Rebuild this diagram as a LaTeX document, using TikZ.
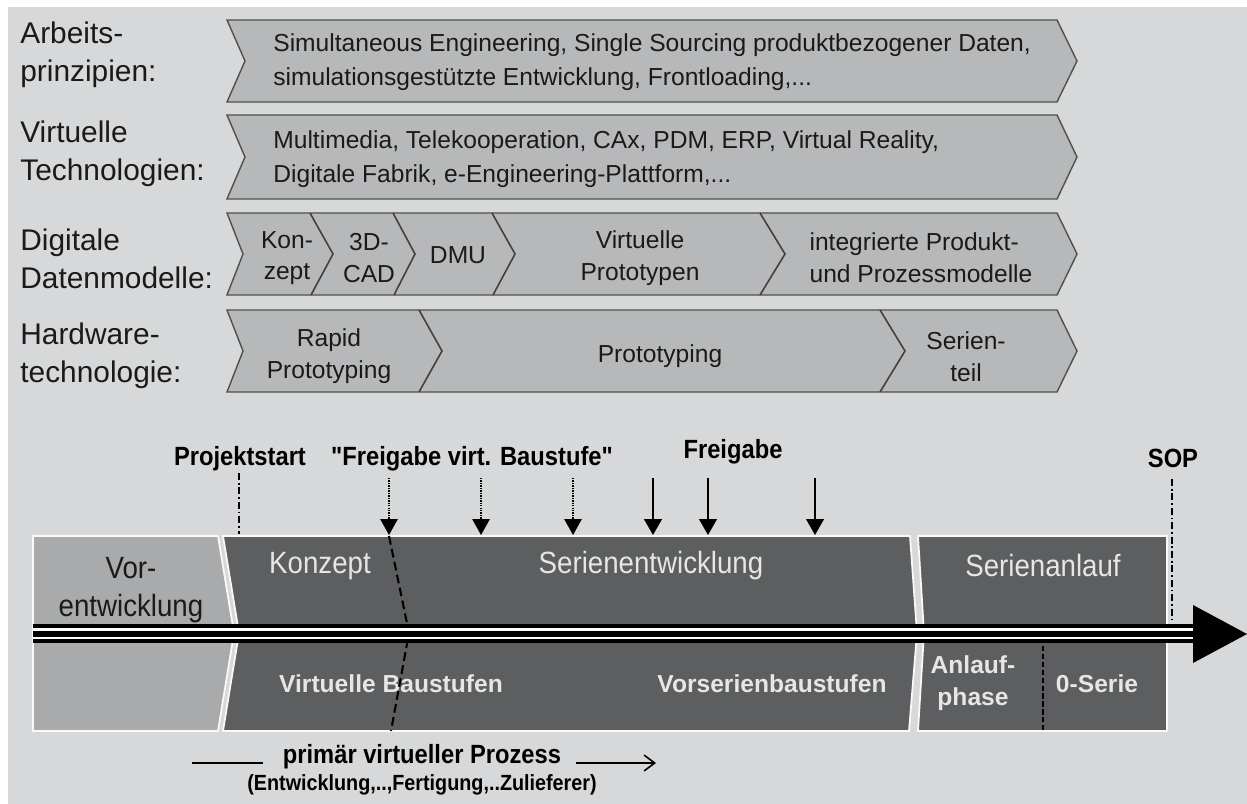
\documentclass[tikz,border=0pt]{standalone}
\usepackage{fontspec}
\setmainfont{Liberation Sans}
\newfontfamily\narrowsans[FakeStretch=0.9]{Liberation Sans}
\usetikzlibrary{arrows.meta}

\definecolor{bgc}{HTML}{D7D8D9}
\definecolor{chevfill}{HTML}{B7B8B9}
\definecolor{chevline}{HTML}{505050}
\definecolor{prefill}{HTML}{A9AAAB}
\definecolor{phasefill}{HTML}{5C5E5F}
\definecolor{phasetext}{HTML}{E6E6E6}
\definecolor{inktext}{HTML}{1A1A1A}

\tikzset{
  rowlabel/.style={anchor=west, align=left, inner sep=0pt, text=inktext,
    font=\fontsize{17}{21.5}\selectfont},
  rowtext/.style={align=left, inner sep=0pt, text=inktext,
    font=\fontsize{14}{19.5}\selectfont},
  segtext/.style={align=center, inner sep=0pt, text=inktext,
    font=\fontsize{14}{18}\selectfont},
  chev/.style={fill=chevfill, draw=chevline, line width=0.8pt, line join=miter},
  divider/.style={draw=chevline!80!black, line width=0.9pt},
  prephase/.style={fill=prefill, draw=white!85!bgc, line width=1pt},
  phase/.style={fill=phasefill, draw=white!85!bgc, line width=1pt},
  phasename/.style={inner sep=0pt, text=phasetext,
    font=\narrowsans\fontsize{17.5}{22}\selectfont},
  stagename/.style={inner sep=0pt, text=phasetext, align=center,
    font=\bfseries\fontsize{14}{18}\selectfont},
  milestone/.style={inner sep=0pt, anchor=base, text=black,
    font=\narrowsans\bfseries\fontsize{15}{18}\selectfont},
  dashdot/.style={draw=black, line width=1pt,
    dash pattern=on 4pt off 1.6pt on 1pt off 1.6pt},
  dottedarrow/.style={draw=black, line width=1.3pt, dash pattern=on 0.8pt off 0.6pt,
    -{Triangle[length=9pt,width=10pt,line width=0pt]}},
  solidarrow/.style={draw=black, line width=1.2pt,
    -{Triangle[length=9pt,width=10pt]}},
  axisline/.style={draw=black, line width=2.4pt},
}

\begin{document}
\begin{tikzpicture}[x=0.02cm, y=-0.02cm]
  % page and background
  \useasboundingbox (0,0) rectangle (1247,804);
  \fill[white] (0,0) rectangle (1247,804);
  \fill[bgc] (8,7) rectangle (1247,804);

  % ---------- row labels ----------
  \node[rowlabel] (lab1) at (20,55)  {Arbeits-\\prinzipien:};
  \node[rowlabel] (lab2) at (20,154) {Virtuelle\\Technologien:};
  \node[rowlabel] (lab3) at (20,259) {Digitale\\Datenmodelle:};
  \node[rowlabel] (lab4) at (20,356) {Hardware-\\technologie:};

  % ---------- chevron rows ----------
  % row 1
  \path[chev] (227,20) -- (1057,20) -- (1077,61) -- (1057,102) -- (227,102) -- (245,61) -- cycle;
  \node[rowtext, anchor=west] (r1) at (273,62)
    {Simultaneous Engineering, Single Sourcing produktbezogener Daten,\\
     simulationsgestützte Entwicklung, Frontloading,...};
  % row 2
  \path[chev] (227,115) -- (1057,115) -- (1077,157) -- (1057,199) -- (227,199) -- (245,157) -- cycle;
  \node[rowtext, anchor=west] (r2) at (273,159)
    {Multimedia, Telekooperation, CAx, PDM, ERP, Virtual Reality,\\
     Digitale Fabrik, e-Engineering-Plattform,...};
  % row 3
  \path[chev] (227,213) -- (1057,213) -- (1077,254) -- (1057,295) -- (227,295) -- (243,254) -- cycle;
  \draw[divider] (310,213) -- (333,254) -- (311,295);
  \draw[divider] (393,213) -- (415,254) -- (394,295);
  \draw[divider] (492,213) -- (515,254) -- (493,295);
  \draw[divider] (760,213) -- (785,254) -- (760,295);
  \node[segtext] (s31) at (287,258) {Kon-\\zept};
  \node[segtext] (s32) at (369,258) {3D-\\CAD};
  \node[segtext] (s33) at (458,255) {DMU};
  \node[segtext] (s34) at (640,258) {Virtuelle\\Prototypen};
  \node[segtext, align=left] (s35) at (921,258) {integrierte Produkt-\\und Prozessmodelle};
  % row 4
  \path[chev] (227,310) -- (1057,310) -- (1077,351) -- (1057,392) -- (227,392) -- (243,351) -- cycle;
  \draw[divider] (419,310) -- (442,351) -- (419,392);
  \draw[divider] (880,310) -- (905,351) -- (880,392);
  \node[segtext] (s41) at (329,356) {Rapid\\Prototyping};
  \node[segtext] (s42) at (660,356) {Prototyping};
  \node[segtext] (s43) at (966,357) {Serien-\\teil};

  % ---------- phase band ----------
  \path[prephase] (33,536) -- (218,536) -- (234,633) -- (218,731) -- (33,731) -- cycle;
  \path[phase] (223,536) -- (910,536) -- (917,633) -- (909,731) -- (223,731) -- (239,633) -- cycle;
  \path[phase] (918,536) -- (1167,536) -- (1167,731) -- (918,731) -- (924,633) -- cycle;

  \node[phasename, text=inktext, align=center] (pre) at (131,590) {Vor-\\entwicklung};
  \node[phasename] (konz) at (320,566) {Konzept};
  \node[phasename] (seri) at (651,566) {Serienentwicklung};
  \node[phasename] (anl) at (1043,566) {Serienanlauf};
  \node[stagename] (vbs) at (391,684) {Virtuelle Baustufen};
  \node[stagename] (vsb) at (772,684) {Vorserienbaustufen};
  \node[stagename] (alp) at (973,683) {Anlauf-\\phase};
  \node[stagename] (nulls) at (1097,684) {0-Serie};

  % boundary of the virtual stages and of the 0-series
  \coordinate (vb1) at (389,536);
  \coordinate (vb2) at (409,633);
  \coordinate (vb3) at (391,731);
  \draw[draw=black, line width=1.2pt, dash pattern=on 5pt off 2.5pt] (vb1) -- (vb2) -- (vb3);
  \coordinate (ns1) at (1043,646);
  \coordinate (ns2) at (1043,731);
  \draw[draw=black, line width=1.2pt, dash pattern=on 3pt off 1.5pt] (ns1) -- (ns2);

  % ---------- time axis ----------
  \fill[white] (33,624) rectangle (1196,643);
  \coordinate (ax0) at (33,626);
  \coordinate (ax1) at (1196,626);
  \coordinate (bx0) at (33,634);
  \coordinate (bx1) at (1196,634);
  \coordinate (cx0) at (33,641);
  \coordinate (cx1) at (1196,641);
  \draw[axisline] (ax0) -- (ax1);
  \draw[axisline, line width=3.2pt] (bx0) -- (bx1);
  \draw[axisline] (cx0) -- (cx1);
  \coordinate (tip) at (1247,634);
  \fill[black] (1193,605) -- (tip) -- (1193,663) -- cycle;

  % ---------- milestones ----------
  \node[milestone] (pstart) at (240,465) {Projektstart};
  \node[milestone] (fvb) at (472,465) {"Freigabe virt. Baustufe"};
  \node[milestone] (frg) at (733,458) {Freigabe};
  \node[milestone] (sop) at (1173,467) {SOP};

  \coordinate (ps1) at (239,473);
  \coordinate (ps2) at (239,534);
  \draw[dashdot] (ps1) -- (ps2);
  \coordinate (sp1) at (1172,479);
  \coordinate (sp2) at (1172,622);
  \draw[dashdot] (sp1) -- (sp2);

  \coordinate (d1a) at (389,478); \coordinate (d1b) at (389,535);
  \coordinate (d2a) at (481,478); \coordinate (d2b) at (481,535);
  \coordinate (d3a) at (573,478); \coordinate (d3b) at (573,535);
  \draw[dottedarrow] (d1a) -- (d1b);
  \draw[dottedarrow] (d2a) -- (d2b);
  \draw[dottedarrow] (d3a) -- (d3b);

  \coordinate (a1a) at (653,478); \coordinate (a1b) at (653,535);
  \coordinate (a2a) at (708,478); \coordinate (a2b) at (708,535);
  \coordinate (a3a) at (815,478); \coordinate (a3b) at (815,535);
  \draw[solidarrow] (a1a) -- (a1b);
  \draw[solidarrow] (a2a) -- (a2b);
  \draw[solidarrow, line width=0.9pt] (a3a) -- (a3b);

  % ---------- virtual process note ----------
  \node[milestone] (pvp) at (422,763) {primär virtueller Prozess};
  \node[milestone, font=\narrowsans\bfseries\fontsize{12.5}{14}\selectfont] (pvd) at (422,790)
    {(Entwicklung,..,Fertigung,..Zulieferer)};
  \coordinate (pl0) at (192,763);
  \coordinate (pl1) at (263,763);
  \coordinate (pr0) at (576,763);
  \coordinate (pr1) at (656,763);
  \draw[black, line width=1pt] (pl0) -- (pl1);
  \draw[black, line width=0.9pt, -{Straight Barb[length=6pt,width=9pt]}] (pr0) -- (pr1);
\end{tikzpicture}
\end{document}
